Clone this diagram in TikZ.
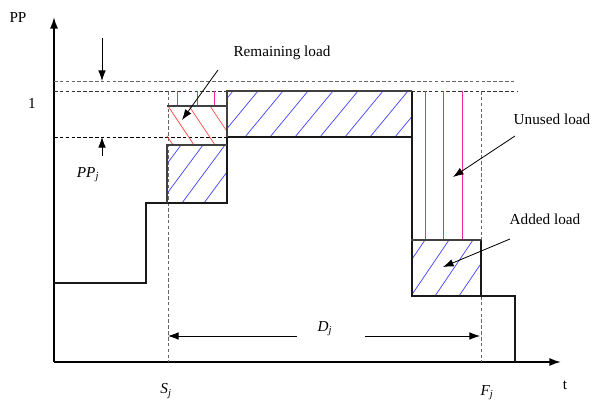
\documentclass[tikz,border=0pt]{standalone}
\usepackage{fontspec}
\setmainfont{Liberation Serif}
\usepackage{amsmath}
\usetikzlibrary{arrows.meta}

\tikzset{
  txt/.style={font=\fontsize{13}{15}\selectfont, inner sep=1pt},
  grid dash/.style={dash pattern=on 3pt off 2pt, line width=0.7pt},
  edge thick/.style={line width=1.7pt, black!75},
  edge thin/.style={line width=0.9pt, black!90},
  hatch blue/.style={blue!75, line width=0.6pt},
  hatch red/.style={red!70, line width=0.6pt},
  unused/.style={magenta!85, line width=0.8pt},
  pointer/.style={->, line width=0.7pt}
}

\begin{document}
\begin{tikzpicture}[x=0.03cm, y=-0.03cm, >={Latex[length=9pt,width=6.5pt]}]
        \useasboundingbox (0,0) rectangle (593,405);
        % ==== AXES ====
        \coordinate (O) at (54,362);
        \coordinate (ytip) at (54,17);
        \coordinate (xtip) at (561,362);
        \draw[-{Latex[length=10pt,width=7pt]}, line width=1.6pt] (O) -- (ytip);
        \draw[-{Latex[length=10pt,width=7pt]}, line width=1.6pt] (O) -- (xtip);
        \node[txt] (pp) at (18,18) {PP};
        \node[txt] (t) at (565,385) {t};
        \node[txt] (one) at (32,103) {1};

        % ==== DASHED GUIDES ====
        \draw[grid dash, black!60] (54,81) -- (515,81);
        \draw[grid dash, black!80] (54,91) -- (518,91);
        \draw[grid dash] (54,137) -- (227,137);
        \draw[grid dash, black!60] (168,91) -- (168,362);
        \draw[grid dash, black!60] (481,91) -- (481,362);

        % ==== HATCHING ====
        \begin{scope}
          \clip (227,91) rectangle (412,137);
          \foreach \s in {195,220,...,420} \draw[hatch blue] (\s,137) -- ++(38,-46);
        \end{scope}
        \begin{scope}
          \clip (167,145) rectangle (227,203);
          \foreach \s in {138,160,...,230} \draw[hatch blue] (\s,203) -- ++(43,-58);
        \end{scope}
        \begin{scope}
          \clip (411,240) rectangle (481,296);
          \foreach \s in {387,411,...,483} \draw[hatch blue] (\s,296) -- ++(38,-56);
        \end{scope}
        \begin{scope}
          \clip (167,106) rectangle (227,145);
          \foreach \s in {147,168,...,230} \draw[hatch red] (\s,106) -- ++(26,39);
        \end{scope}
        \foreach \x in {177,197,214} \draw[unused] (\x,91) -- (\x,106);
        \foreach \x in {425,443,462} \draw[unused] (\x,91) -- (\x,240);

        % ==== LOAD PROFILE ====
        \draw[edge thin] (54,283) -| (146,203) -- (227,203) -- (227,137)
            -- (412,137) -- (412,296) -- (515,296) -- (515,362);
        \draw[edge thin] (412,91) -- (412,137);
        \draw[edge thin] (227,145) -- (227,91);
        \draw[edge thin] (481,240) -- (481,296);
        \draw[edge thick] (227,137) -- (227,91) -- (412,91);
        \draw[edge thick] (167,106) -- (227,106);
        \draw[edge thick] (167,203) -- (167,145) -- (227,145);
        \draw[edge thick] (411,240) -- (481,240);

        % ==== PP_j MARKER ====
        \coordinate (pa) at (102,38);
        \coordinate (pb) at (102,81);
        \coordinate (pc) at (102,156);
        \coordinate (pd) at (102,137);
        \draw[pointer] (pa) -- (pb);
        \draw[pointer] (pc) -- (pd);
        \node[txt] (ppj) at (88,175) {\itshape PP$_{\textit{j}}$};

        % ==== DURATION ====
        \node[txt] (dj) at (325,329) {\itshape D$_{\textit{j}}$};
        \coordinate (da) at (297,336);
        \coordinate (db) at (168,336);
        \coordinate (dc) at (365,336);
        \coordinate (dd) at (480,336);
        \draw[pointer] (da) -- (db);
        \draw[pointer] (dc) -- (dd);
        \node[txt] (sj) at (166,391) {\itshape S$_{\textit{j}}$};
        \node[txt] (fj) at (487,393) {\itshape F$_{\textit{j}}$};

        % ==== LABELS ====
        \node[txt] (rem) at (282,53) {Remaining load};
        \node[txt] (unu) at (552,119) {Unused load};
        \node[txt] (add) at (545,219) {Added load};
        \coordinate (ra) at (218,70);
        \coordinate (rb) at (182,120);
        \coordinate (ua) at (515,136);
        \coordinate (ub) at (453,177);
        \coordinate (aa) at (510,239);
        \coordinate (ab) at (443,267);
        \draw[pointer] (ra) -- (rb);
        \draw[pointer] (ua) -- (ub);
        \draw[pointer] (aa) -- (ab);
\end{tikzpicture}
\end{document}
